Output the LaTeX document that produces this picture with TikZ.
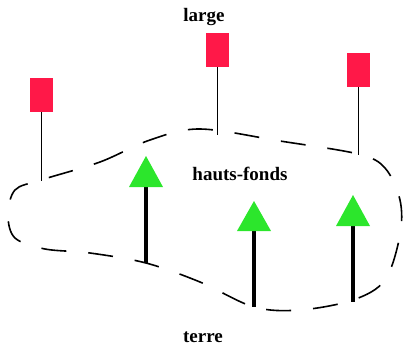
\documentclass[tikz,border=0pt]{standalone}
\usepackage{fontspec}
\setmainfont{Liberation Serif}
\usetikzlibrary{calc}
\definecolor{flagred}{RGB}{255,24,72}
\definecolor{trigreen}{RGB}{44,230,44}
\tikzset{
  flag/.style={fill=flagred, draw=none, minimum width=23pt, minimum height=34pt, inner sep=0pt},
  pole/.style={line width=1.8pt},
  stem/.style={line width=3.2pt},
  tri/.style={fill=trigreen, draw=none},
  lbl/.style={font=\fontsize{19}{21}\selectfont\bfseries, inner sep=0pt},
  shore/.style={line width=1.6pt, dash pattern=on 25pt off 22pt}
}
\begin{document}
\begin{tikzpicture}[x=1pt,y=-1pt]
\useasboundingbox (0,0) rectangle (403,347);
% dashed outline
\draw[shore] plot[smooth cycle, tension=0.55] coordinates {
 (41,180) (100,162) (150,140) (200,129) (280,141) (358,154) (385,168) (400,200)
 (400,235) (385,280) (353,300) (300,310) (254,307) (200,282) (146,263) (90,253)
 (45,249) (15,238) (8,215) (15,190)};
% flags
\node[flag] (f1) at (41.5,95) {};
\node[flag] (f2) at (217.5,50) {};
\node[flag] (f3) at (358.5,70) {};
\coordinate (b1) at (41.5,181);
\coordinate (b2) at (217.5,135);
\coordinate (b3) at (358.5,155);
\draw[pole] (f1.south) -- (b1);
\draw[pole] (f2.south) -- (b2);
\draw[pole] (f3.south) -- (b3);
% triangles
\coordinate (t1) at (146,187); \coordinate (s1) at (146,263);
\coordinate (t2) at (254,231); \coordinate (s2) at (254,307);
\coordinate (t3) at (353,226); \coordinate (s3) at (353,302);
\draw[stem] (t1) -- (s1);
\draw[stem] (t2) -- (s2);
\draw[stem] (t3) -- (s3);
\fill[tri] ($(t1)+(-17,0)$) -- (146,156) -- ($(t1)+(17,0)$) -- cycle;
\fill[tri] ($(t2)+(-17,0)$) -- (254,201) -- ($(t2)+(17,0)$) -- cycle;
\fill[tri] ($(t3)+(-17,0)$) -- (353,195) -- ($(t3)+(17,0)$) -- cycle;
% labels
\node[lbl] (large) at (204,17) {large};
\node[lbl] (hf) at (240,174) {hauts-fonds};
\node[lbl] (terre) at (203,337) {terre};
\end{tikzpicture}
\end{document}
